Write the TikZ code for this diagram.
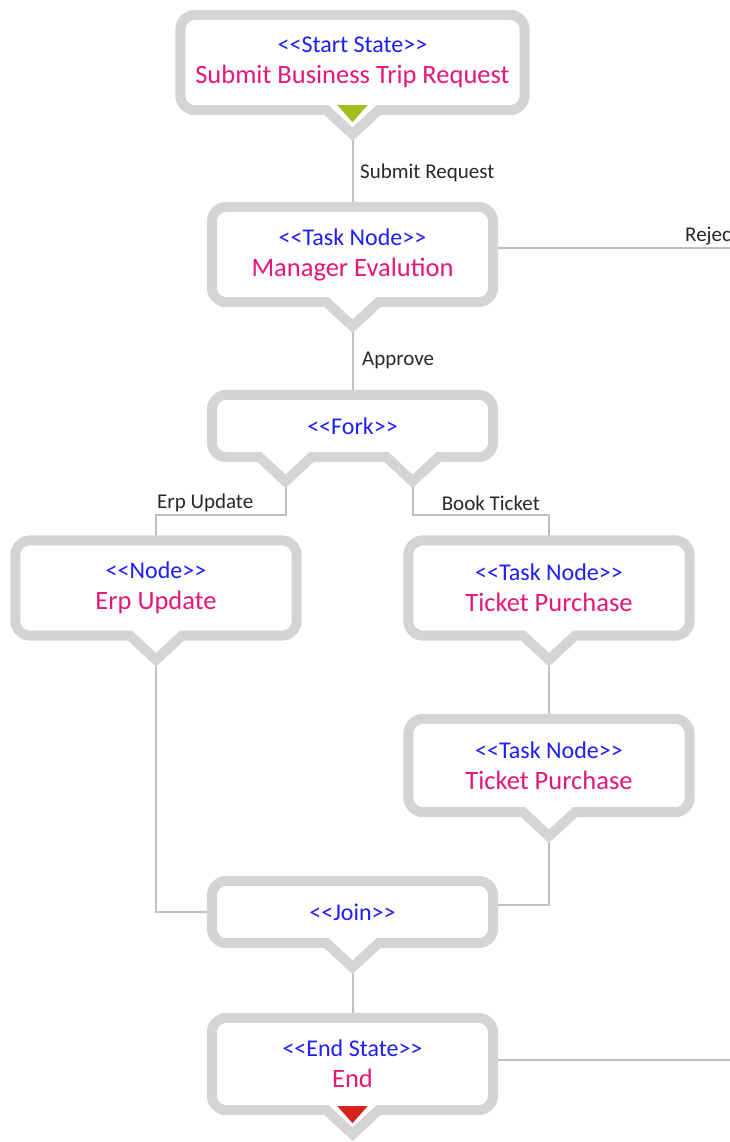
\documentclass[tikz,border=0pt]{standalone}
\usepackage{fontspec}
\setmainfont{Carlito}
\usetikzlibrary{calc}

\definecolor{bordergray}{RGB}{212,212,212}
\definecolor{wiregray}{RGB}{192,192,192}
\definecolor{stereoblue}{RGB}{30,30,250}
\definecolor{namepink}{RGB}{228,24,120}
\definecolor{labelgray}{RGB}{40,40,40}
\definecolor{startgreen}{RGB}{160,190,30}
\definecolor{endred}{RGB}{215,35,30}

\pgfdeclarelayer{wires}
\pgfdeclarelayer{shapes}
\pgfsetlayers{wires,shapes,main}

\newcommand\stereo[1]{{\color{stereoblue}<{}<#1>{}>}}
\newcommand\statename[1]{{\color{namepink}\fontsize{26.5}{31}\selectfont #1}}
% outline of a state with one pointer below it
\newcommand\bubble[2][0]{%
  \begin{pgfonlayer}{shapes}
    \draw[bubble] (#2.north west) -- (#2.north east) -- (#2.south east)
      [sharp corners] -- ($(#2.south)+(#1+26,0)$) -- ($(#2.south)+(#1,24)$)
      -- ($(#2.south)+(#1-26,0)$) [rounded corners=15pt] -- (#2.south west) -- cycle;
  \end{pgfonlayer}
  \coordinate (#2-tip) at ($(#2.south)+(#1,24)$);}

\begin{document}
\begin{tikzpicture}[x=1pt, y=-1pt,
  state/.style={minimum width=281pt, minimum height=95pt, inner sep=0pt,
    align=center, font=\fontsize{24}{31}\selectfont},
  bubble/.style={draw=bordergray, line width=10pt, fill=white,
    rounded corners=15pt, line join=miter},
  wire/.style={draw=wiregray, line width=2pt},
  lbl/.style={font=\fontsize{21}{24}\selectfont, text=labelgray, inner sep=0pt}]
  \useasboundingbox (0,0) rectangle (730,1142);

  % states
  \node[state, minimum width=344pt] (start) at (352.5,62.5)
    {\stereo{Start State}\\\statename{Submit Business Trip Request}};
  \node[state] (mgr) at (352.5,254.5) {\stereo{Task Node}\\\statename{Manager Evalution}};
  \node[state, minimum height=62pt] (fork) at (352.5,426) {\stereo{Fork}};
  \node[state] (erp) at (156,588) {\stereo{Node}\\\statename{Erp Update}};
  \node[state] (buy1) at (549,588) {\stereo{Task Node}\\\statename{Ticket Purchase}};
  \node[state, minimum height=93pt] (buy2) at (549,765.5)
    {\stereo{Task Node}\\\statename{Ticket Purchase}};
  \node[state, minimum height=62pt] (join) at (352.5,912) {\stereo{Join}};
  \node[state, minimum height=92pt] (end) at (352.5,1064) {\stereo{End State}\\\statename{End}};

  % outlines
  \bubble{start}
  \bubble{mgr}
  \bubble{erp}
  \bubble{buy1}
  \bubble{buy2}
  \bubble{join}
  \bubble{end}
  \begin{pgfonlayer}{shapes}
    \draw[bubble] (fork.north west) -- (fork.north east) -- (fork.south east)
      [sharp corners] -- ($(fork.south)+(86,0)$) -- ($(fork.south)+(60,24)$)
      -- ($(fork.south)+(34,0)$)
      -- ($(fork.south)+(-41,0)$) -- ($(fork.south)+(-67,24)$)
      -- ($(fork.south)+(-93,0)$)
      [rounded corners=15pt] -- (fork.south west) -- cycle;
  \end{pgfonlayer}
  \coordinate (fork-tipL) at ($(fork.south)+(-67,24)$);
  \coordinate (fork-tipR) at ($(fork.south)+(60,24)$);
  \coordinate (rej-out) at (760,248);
  \coordinate (end-out) at (760,1060);

  % markers
  \fill[startgreen] ($(start.south)+(-15,-5)$) -- ($(start.south)+(15,-5)$)
    -- ($(start.south)+(0,12)$) -- cycle;
  \fill[endred] ($(end.south)+(-15,-4)$) -- ($(end.south)+(15,-4)$)
    -- ($(end.south)+(0,13)$) -- cycle;

  % transitions
  \begin{pgfonlayer}{wires}
    \draw[wire] (start-tip) -- (mgr.north);
    \draw[wire] (mgr.east |- rej-out) -- (rej-out);
    \draw[wire] (mgr-tip) -- (fork.north);
    \draw[wire] (fork-tipL) -- ++(0,34) -| (erp.north);
    \draw[wire] (fork-tipR) -- ++(0,34) -| (buy1.north);
    \draw[wire] (buy1-tip) -- (buy2.north);
    \draw[wire] (erp-tip) |- (join.west);
    \draw[wire] (buy2-tip) |- ($(join.east)+(0,-7)$);
    \draw[wire] (join-tip) -- (end.north);
    \draw[wire] (end.east |- end-out) -- (end-out);
  \end{pgfonlayer}

  % labels
  \node[lbl, anchor=west] (l-submit) at (360,173) {Submit Request};
  \node[lbl, anchor=south west] (l-reject) at (685,245) {Reject};
  \node[lbl, anchor=west] (l-approve) at (362,360) {Approve};
  \node[lbl, anchor=west] (l-erp) at (157,503) {Erp Update};
  \node[lbl, anchor=east] (l-book) at (540,503) {Book Ticket};
\end{tikzpicture}
\end{document}
